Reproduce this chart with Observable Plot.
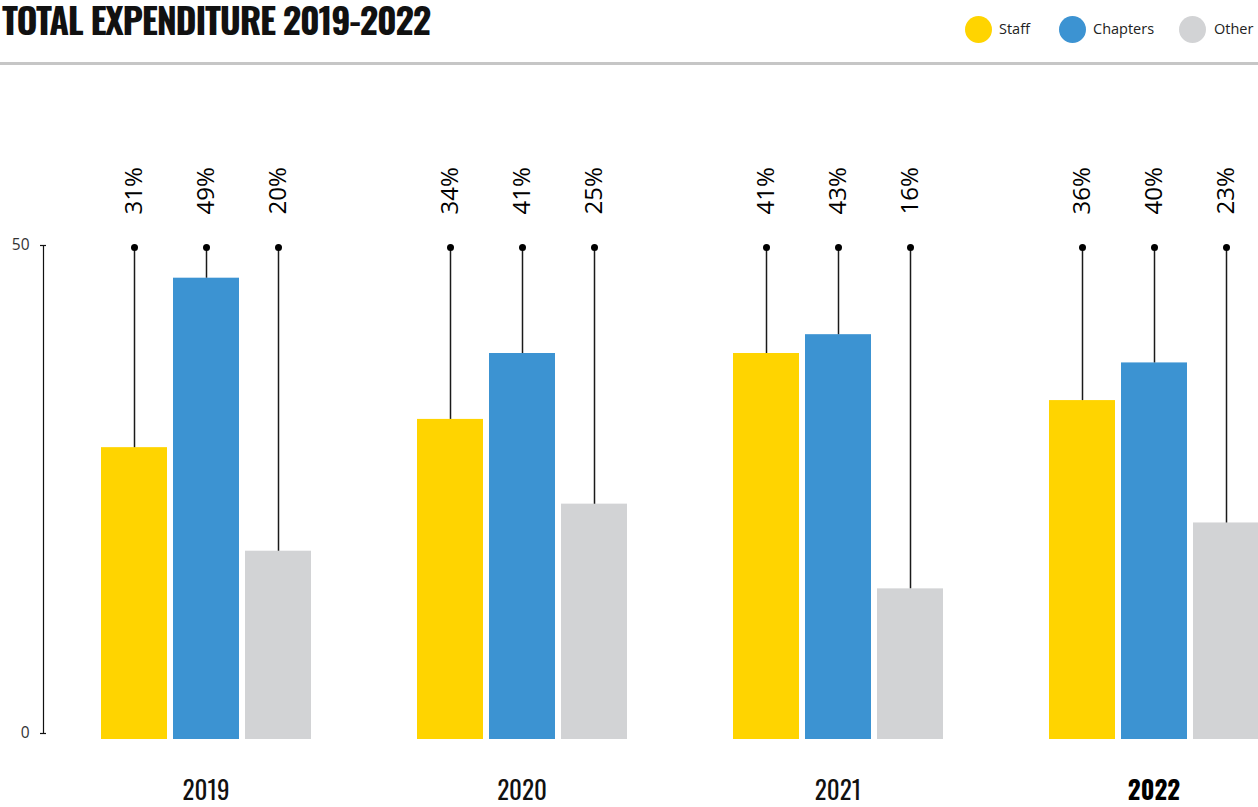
<!DOCTYPE html>
<html>
<head>
<meta charset="utf-8">
<script src="https://cdn.jsdelivr.net/npm/d3@7"></script>
<script src="https://cdn.jsdelivr.net/npm/@observablehq/plot@0.6"></script>
<style>
  html, body { margin: 0; padding: 0; background: #fff; overflow: hidden; }
  #wrap { position: relative; width: 1258px; height: 807px; overflow: hidden; }
  #title {
    position: absolute; left: 2px; top: 1px;
    font-family: "Oswald", "Liberation Sans Narrow", "Arial Narrow", "DejaVu Sans Condensed", sans-serif;
    font-weight: bold; font-size: 36px; line-height: 36px; color: #111;
    white-space: nowrap;
  }
  #rule { position: absolute; left: 0; top: 62px; width: 1258px; height: 3px; background: #c6c6c6; }
  #legend { position: absolute; top: 16px; left: 0; width: 1258px; height: 27px;
    font-family: "Open Sans", "Noto Sans", sans-serif; font-size: 14.5px; color: #222; }
  .sw { position: absolute; top: 0; width: 27px; height: 27px; border-radius: 50%; }
  .lb { position: absolute; top: 3px; line-height: 20px; }
  #main, #axis { position: absolute; left: 0; top: 78px; }
</style>
</head>
<body>
<div id="wrap">
  <div id="title">TOTAL EXPENDITURE 2019-2022</div>
  <div id="legend"></div>
  <div id="rule"></div>
  <div id="main"></div>
  <div id="axis"></div>
</div>
<script>
const years = ["2019", "2020", "2021", "2022"];
const highlightYear = "2022";
const series = ["Staff", "Chapters", "Other"];
const staff = [31, 34, 41, 36];
const chapters = [49, 41, 43, 40];
const other = [20, 25, 16, 23];
const colors = ["#FFD400", "#3C93D2", "#D2D3D5"];
const stemTop = 52.26;   // value level where the lollipop dots sit
const axisTicks = [0, 50];

const valuesBySeries = [staff, chapters, other];
const rows = [];
years.forEach((yr, i) => {
  series.forEach((s, j) => rows.push({year: yr, series: s, value: valuesBySeries[j][i]}));
});

// Title fit via letter spacing (no transform)
const title = document.getElementById("title");
const tw = title.getBoundingClientRect().width;
const nChars = title.textContent.length;
title.style.letterSpacing = ((428 - tw) / nChars) + "px";

// Legend
const legendPos = [{c: 965, t: 999}, {c: 1059, t: 1093}, {c: 1179, t: 1214}];
const legend = document.getElementById("legend");
series.forEach((s, j) => {
  const sw = document.createElement("div");
  sw.className = "sw"; sw.style.left = legendPos[j].c + "px"; sw.style.background = colors[j];
  const lb = document.createElement("div");
  lb.className = "lb"; lb.style.left = legendPos[j].t + "px"; lb.textContent = s;
  legend.appendChild(sw); legend.appendChild(lb);
});

const yearFont = "'Oswald', 'Liberation Sans Narrow', 'Arial Narrow', 'DejaVu Sans Condensed', sans-serif";

const main = Plot.plot({
  width: 1258,
  height: 729,
  marginLeft: 98,
  marginRight: -2,
  marginTop: 169,
  marginBottom: 68,
  style: {fontFamily: "'Open Sans', 'Noto Sans', sans-serif", background: "transparent"},
  fx: {domain: years, paddingInner: 0.3338, paddingOuter: 0, axis: null},
  x: {domain: series, paddingInner: 0.09, paddingOuter: 0, axis: null},
  y: {domain: [0, stemTop], axis: null},
  color: {domain: series, range: colors},
  marks: [
    Plot.barY(rows, {fx: "year", x: "series", y: "value", fill: "series"}),
    Plot.ruleX(rows, {fx: "year", x: "series", y1: "value", y2: stemTop, stroke: "#1a1a1a", strokeWidth: 1.5}),
    Plot.dot(rows, {fx: "year", x: "series", y: stemTop, r: 3.5, fill: "#000", stroke: "none"}),
    Plot.text(rows, {fx: "year", x: "series", y: stemTop, text: d => d.value + "%",
      rotate: -90, textAnchor: "start", dy: -33, fontSize: 24, fill: "#000"}),
    Plot.text(years.filter(d => d !== highlightYear), {fx: d => d, text: d => d, frameAnchor: "bottom", dy: 60,
      fontSize: 25, fill: "#111", fontFamily: yearFont, fontWeight: "normal"}),
    Plot.text([highlightYear], {fx: d => d, text: d => d, frameAnchor: "bottom", dy: 60,
      fontSize: 25, fill: "#000", fontFamily: yearFont, fontWeight: "bold"})
  ]
});
document.getElementById("main").appendChild(main);

const axis = Plot.plot({
  width: 60,
  height: 729,
  marginLeft: 40,
  marginRight: 14,
  marginTop: 167,
  marginBottom: 74,
  style: {fontFamily: "'Open Sans', 'Noto Sans', sans-serif", background: "transparent", overflow: "visible"},
  x: {domain: [-3, 3], axis: null},
  y: {domain: [0, 50], axis: null},
  marks: [
    Plot.ruleX([0], {y1: 0, y2: 50, stroke: "#111", strokeWidth: 1.2}),
    Plot.ruleY(axisTicks, {x1: -3, x2: 3, stroke: "#111", strokeWidth: 1.2}),
    Plot.text(axisTicks, {x: -3, y: d => d, text: d => String(d), textAnchor: "end", dx: -11, fontSize: 15.5, fill: "#333"})
  ]
});
document.getElementById("axis").appendChild(axis);
</script>
</body>
</html>
